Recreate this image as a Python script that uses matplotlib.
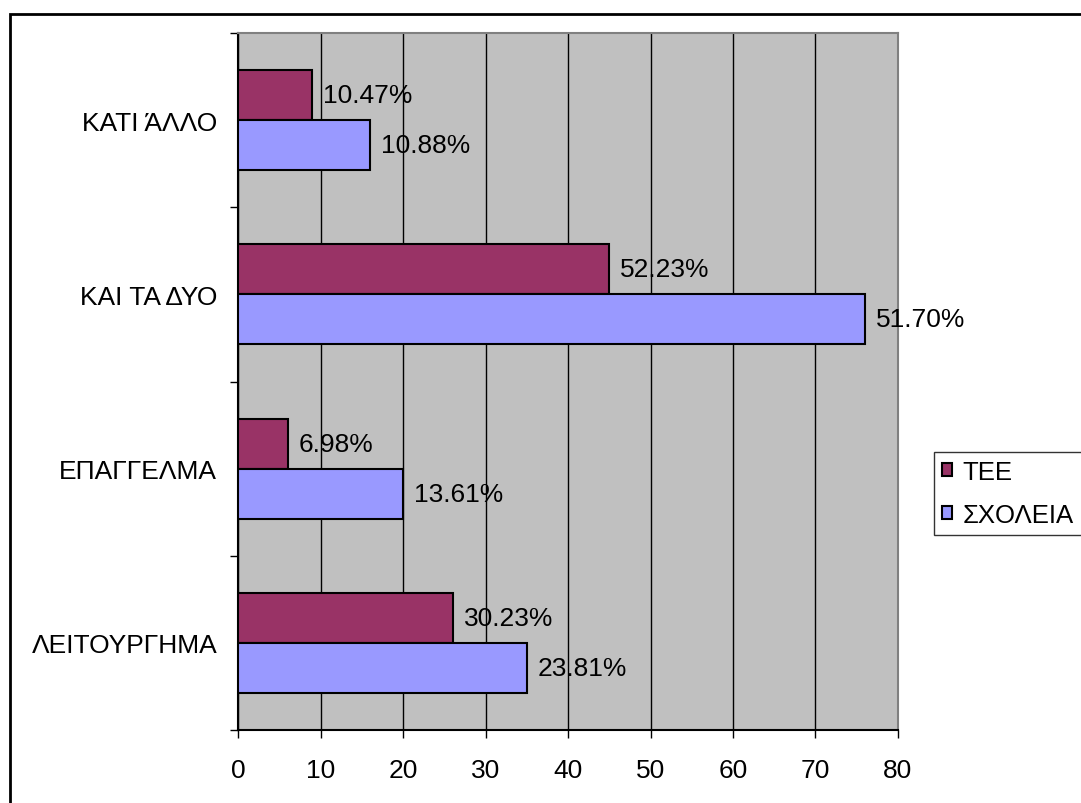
import matplotlib.pyplot as plt
import matplotlib.patches as patches
import numpy as np

plt.rcParams["font.family"] = ["Liberation Sans", "DejaVu Sans"]

categories = ["ΛΕΙΤΟΥΡΓΗΜΑ", "ΕΠΑΓΓΕΛΜΑ", "ΚΑΙ ΤΑ ΔΥΟ", "ΚΑΤΙ ΆΛΛΟ"]
tee_counts = [26, 6, 45, 9]
schools_counts = [35, 20, 76, 16]
tee_labels = ["30.23%", "6.98%", "52.23%", "10.47%"]
schools_labels = ["23.81%", "13.61%", "51.70%", "10.88%"]
x_ticks = [0, 10, 20, 30, 40, 50, 60, 70, 80]

tee_color = "#993366"
schools_color = "#9999FF"
bar_h = 0.287
fs = 19

fig = plt.figure(figsize=(10.81, 8.04), dpi=100)
ax = fig.add_axes([0.2202, 0.0908, 0.6105, 0.8669])
ax.set_facecolor("#C0C0C0")

y = np.arange(len(categories))
b1 = ax.barh(y + bar_h / 2, tee_counts, height=bar_h, color=tee_color,
             edgecolor="black", linewidth=1.5, label="ΤΕΕ", zorder=3)
b2 = ax.barh(y - bar_h / 2, schools_counts, height=bar_h, color=schools_color,
             edgecolor="black", linewidth=1.5, label="ΣΧΟΛΕΙΑ", zorder=3)

for bars, labels in [(b1, tee_labels), (b2, schools_labels)]:
    for bar, lab in zip(bars, labels):
        ax.annotate(lab, (bar.get_width(), bar.get_y() + bar.get_height() / 2),
                    xytext=(8, 0), textcoords="offset points",
                    va="center", ha="left", fontsize=fs)

ax.set_xlim(0, 80)
ax.set_ylim(-0.5, len(categories) - 0.5)
ax.set_xticks(x_ticks)
ax.tick_params(axis="x", labelsize=fs, length=6, width=1, direction="out", pad=14)

# category boundaries carry the ticks, names sit between them
ax.set_yticks(np.arange(-0.5, len(categories), 1.0))
ax.set_yticklabels([])
ax.set_yticks(y, minor=True)
ax.set_yticklabels(categories, minor=True, fontsize=fs)
ax.tick_params(axis="y", which="major", length=6, width=1, direction="out")
ax.tick_params(axis="y", which="minor", length=0, pad=15)

ax.grid(axis="x", color="black", linewidth=1, zorder=1)
ax.set_axisbelow(True)

for side in ["left", "bottom"]:
    ax.spines[side].set_color("black")
    ax.spines[side].set_linewidth(1.5)
for side in ["top", "right"]:
    ax.spines[side].set_color("#808080")
    ax.spines[side].set_linewidth(1.5)

leg = fig.legend(handles=[b1, b2], loc="upper left",
                 bbox_to_anchor=(0.864, 0.4366), borderaxespad=0,
                 fontsize=18.5, frameon=True, fancybox=False, edgecolor="black",
                 handlelength=0.42, handleheight=0.42, handletextpad=0.4,
                 borderpad=0.3, labelspacing=0.75)
leg.get_frame().set_linewidth(1)

# outer frame around the whole chart
fig.patches.append(patches.Rectangle((0.00925, -0.05), 1.1, 0.9813 + 0.05,
                                     transform=fig.transFigure, fill=False,
                                     edgecolor="black", linewidth=2))

fig.savefig("out.png", dpi=100)
